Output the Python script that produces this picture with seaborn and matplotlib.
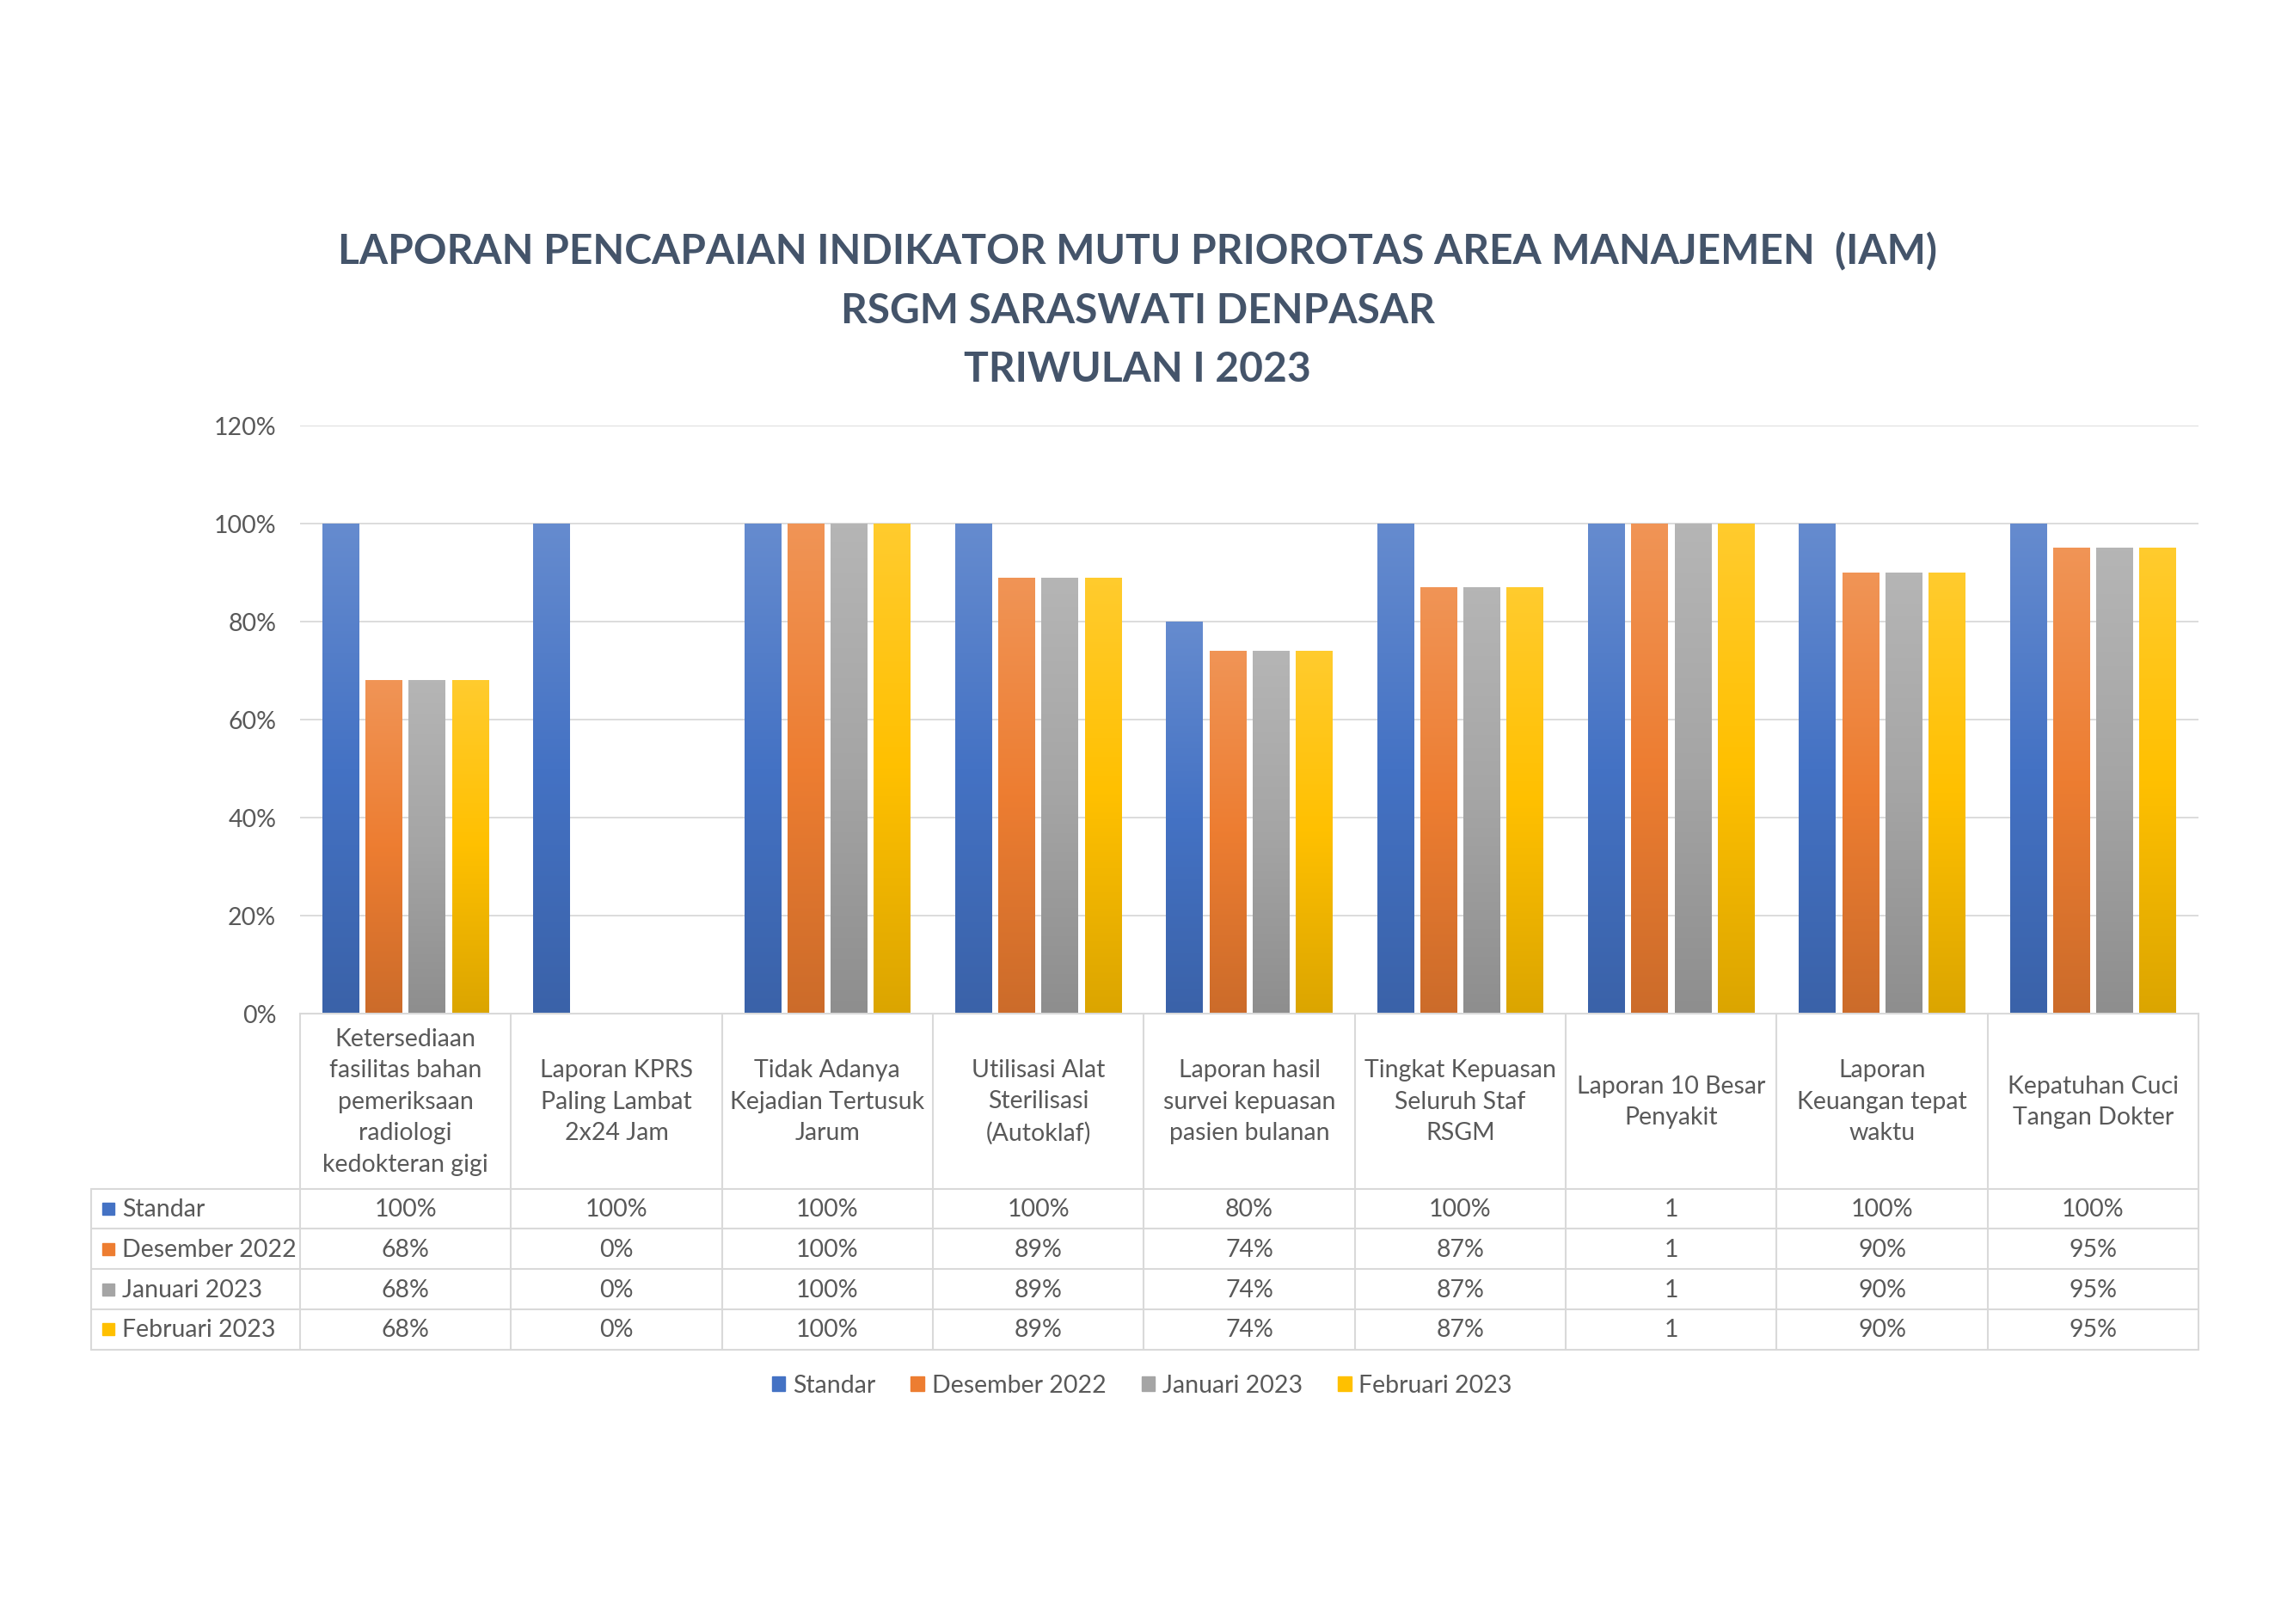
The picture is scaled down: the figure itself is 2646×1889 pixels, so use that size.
import numpy as np
import pandas as pd
import matplotlib
matplotlib.use("Agg")
import matplotlib.pyplot as plt
import seaborn as sns
from matplotlib.colors import LinearSegmentedColormap, to_rgb
from matplotlib.patches import Patch
from matplotlib.ticker import PercentFormatter

sns.set_style("white")
plt.rcParams['font.family'] = ['Lato', 'DejaVu Sans']

# ---- data ----
categories = [
    "Ketersediaan\nfasilitas bahan\npemeriksaan\nradiologi\nkedokteran gigi",
    "Laporan KPRS\nPaling Lambat\n2x24 Jam",
    "Tidak Adanya\nKejadian Tertusuk\nJarum",
    "Utilisasi Alat\nSterilisasi\n(Autoklaf)",
    "Laporan hasil\nsurvei kepuasan\npasien bulanan",
    "Tingkat Kepuasan\nSeluruh Staf\nRSGM",
    "Laporan 10 Besar\nPenyakit",
    "Laporan\nKeuangan tepat\nwaktu",
    "Kepatuhan Cuci\nTangan Dokter",
]
series = ["Standar", "Desember 2022", "Januari 2023", "Februari 2023"]
standar = [1.00, 1.00, 1.00, 1.00, 0.80, 1.00, 1, 1.00, 1.00]
desember_2022 = [0.68, 0.00, 1.00, 0.89, 0.74, 0.87, 1, 0.90, 0.95]
januari_2023 = [0.68, 0.00, 1.00, 0.89, 0.74, 0.87, 1, 0.90, 0.95]
februari_2023 = [0.68, 0.00, 1.00, 0.89, 0.74, 0.87, 1, 0.90, 0.95]
# the "Laporan 10 Besar Penyakit" column is shown as a plain number in the table
plain_number = [False, False, False, False, False, False, True, False, False]
colors = ["#4472C4", "#ED7D31", "#A5A5A5", "#FFC000"]
title_lines = ["LAPORAN PENCAPAIAN INDIKATOR MUTU PRIOROTAS AREA MANAJEMEN  (IAM)",
               "RSGM SARASWATI DENPASAR",
               "TRIWULAN I 2023"]

values = [standar, desember_2022, januari_2023, februari_2023]
df = pd.DataFrame({
    "kategori": np.tile(categories, len(series)),
    "seri": np.repeat(series, len(categories)),
    "nilai": np.concatenate(values),
})

text_col = "#595959"
line_col = "#D9D9D9"
fs = 20.5

fig = plt.figure(figsize=(26.46, 18.9), dpi=100)
ax = fig.add_axes([0.1319, 0.3757, 0.8345, 0.3619])

sns.barplot(data=df, x="kategori", y="nilai", hue="seri", order=categories,
            hue_order=series, palette=colors, saturation=1, width=0.82, gap=0.15,
            legend=False, ax=ax, linewidth=0)

# office-like vertical gradient on every bar
grad = np.linspace(0, 1, 256).reshape(-1, 1)
for p in list(ax.patches):
    h = p.get_height()
    if h <= 0:
        continue
    base = np.array(to_rgb(p.get_facecolor()))
    top = base + (1 - base) * 0.18
    bottom = base * 0.86
    cmap = LinearSegmentedColormap.from_list("g", [bottom, base, top])
    x0, w = p.get_x(), p.get_width()
    im = ax.imshow(grad, extent=[x0, x0 + w, 0, h], origin="lower", cmap=cmap,
                   aspect="auto", interpolation="bilinear", zorder=p.get_zorder() + 0.1)
    im.set_clip_path(p)

ax.set_xlim(-0.5, len(categories) - 0.5)
ax.set_ylim(0, 1.2)
ax.set_yticks(np.arange(0, 1.21, 0.2))
ax.yaxis.set_major_formatter(PercentFormatter(1.0, decimals=0))
ax.tick_params(axis="y", length=0, pad=20, labelsize=fs, labelcolor=text_col)
ax.set_xticks([])
ax.set_xlabel("")
ax.set_ylabel("")
ax.grid(axis="y", color=line_col, lw=1.3)
ax.set_axisbelow(True)
for s in ["top", "right", "left"]:
    ax.spines[s].set_visible(False)
ax.spines["bottom"].set_color(line_col)
ax.spines["bottom"].set_linewidth(1.5)

# ---- data table under the chart ----
n = len(categories)
yh = -0.298
rh = 0.0683
ybot = yh - len(series) * rh
xlab = -0.1101
kw = dict(transform=ax.transAxes, clip_on=False, color=line_col, lw=1.5)
for i in range(n + 1):
    ax.plot([i / n, i / n], [0, ybot], **kw)
ax.plot([xlab, xlab], [yh, ybot], **kw)
for r in range(len(series) + 1):
    y = yh - r * rh
    ax.plot([xlab, 1], [y, y], **kw)

for i, cat in enumerate(categories):
    ax.text((i + 0.5) / n, yh / 2, cat, transform=ax.transAxes, ha="center",
            va="center", fontsize=fs, color=text_col, linespacing=1.5)

for r, (name, vals) in enumerate(zip(series, values)):
    yc = yh - (r + 0.5) * rh
    ax.plot([-0.101], [yc], marker="s", ms=10, color=colors[r], transform=ax.transAxes,
            clip_on=False, ls="none")
    ax.text(-0.0937, yc, name, transform=ax.transAxes, ha="left", va="center",
            fontsize=fs, color=text_col)
    for i, v in enumerate(vals):
        label = f"{v:g}" if plain_number[i] else f"{v * 100:.0f}%"
        ax.text((i + 0.5) / n, yc, label, transform=ax.transAxes, ha="center",
                va="center", fontsize=fs, color=text_col)

handles = [Patch(color=c, label=s) for c, s in zip(colors, series)]
fig.legend(handles=handles, loc="center", bbox_to_anchor=(0.502, 0.147), ncol=4,
           frameon=False, fontsize=fs, labelcolor=text_col, handlelength=0.55,
           handleheight=0.55, handletextpad=0.3, columnspacing=1.45)

for k, (t, y) in enumerate(zip(title_lines, [0.8450, 0.8085, 0.7725])):
    fig.text(0.5, y, t, ha="center", va="center", fontsize=34.5, fontweight="bold",
             color="#44546A")

fig.savefig("out.png", dpi=100, facecolor="white")
